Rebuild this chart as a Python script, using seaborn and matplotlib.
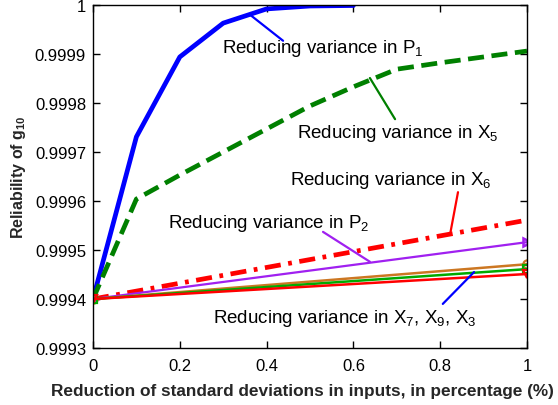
import matplotlib
matplotlib.use("Agg")
import matplotlib.pyplot as plt
import seaborn as sns
import pandas as pd
import numpy as np

# ---- data ----
x_p1 = [0.0, 0.1, 0.2, 0.3, 0.4, 0.5, 0.6]
y_p1 = [0.99940, 0.999731, 0.999894, 0.999963, 0.999992, 0.999998, 0.999999]

x_x5 = [0.0, 0.1, 0.2, 0.3, 0.4, 0.5, 0.6, 0.7, 0.8, 0.9, 1.0]
y_x5 = [0.99940, 0.999604, 0.999653, 0.999700, 0.999747, 0.999794,
        0.999833, 0.999869, 0.999882, 0.999894, 0.999906]

x_lin = [0.0, 1.0]
y_x6 = [0.99940, 0.999561]
y_p2 = [0.99940, 0.999516]
y_x7 = [0.99940, 0.999471]
y_x9 = [0.99940, 0.999461]
y_x3 = [0.99940, 0.999451]

xticks = [0, 0.2, 0.4, 0.6, 0.8, 1.0]
xticklabels = ["0", "0.2", "0.4", "0.6", "0.8", "1"]
yticks = [0.9993, 0.9994, 0.9995, 0.9996, 0.9997, 0.9998, 0.9999, 1.0]
yticklabels = ["0.9993", "0.9994", "0.9995", "0.9996", "0.9997", "0.9998", "0.9999", "1"]

sns.set_style("ticks")
plt.rcParams['font.family'] = ['Liberation Sans', 'DejaVu Sans']
plt.rcParams['mathtext.fontset'] = 'custom'
plt.rcParams['mathtext.rm'] = 'Liberation Sans'
plt.rcParams['mathtext.it'] = 'Liberation Sans'
plt.rcParams['mathtext.bf'] = 'Liberation Sans:bold'

fig = plt.figure(figsize=(5.58, 4.06), dpi=100)
ax = fig.add_axes([93/558, 1-349/406, (527-93)/558, (349-6)/406])

def line(x, y, **kw):
    sns.lineplot(x=x, y=y, ax=ax, sort=False, estimator=None, **kw)

PURPLE = '#A020F0'
BROWN = '#CC7722'

line(x_p1, y_p1, color='#0000FF', lw=3.4)
line(x_x5, y_x5, color='#008000', lw=3.4, linestyle=(0, (3.4, 1.6)))
line(x_lin, y_x6, color='#FF0000', lw=3.4, linestyle=(0, (3.4, 1.6, 0.8, 1.6)))
line(x_lin, y_p2, color=PURPLE, lw=1.6, marker='>', markersize=6,
     markerfacecolor='none', markeredgecolor=PURPLE, markeredgewidth=1.8)
line(x_lin, y_x7, color=BROWN, lw=1.8, marker='o', markersize=6,
     markerfacecolor='none', markeredgecolor=BROWN, markeredgewidth=1.6)
line(x_lin, y_x9, color='#00AA00', lw=1.8, marker='s', markersize=6,
     markerfacecolor='none', markeredgecolor='#00AA00', markeredgewidth=1.6)
line(x_lin, y_x3, color='#FF0000', lw=1.8, marker='v', markersize=6,
     markerfacecolor='none', markeredgecolor='#FF0000', markeredgewidth=1.6)

ax.set_xlim(0, 1)
ax.set_ylim(0.9993, 1.0)
ax.set_xticks(xticks)
ax.set_xticklabels(xticklabels)
ax.set_yticks(yticks)
ax.set_yticklabels(yticklabels)
ax.tick_params(axis='both', direction='in', top=True, right=True, length=5, width=1,
               labelsize=12, colors='black', pad=5)
ax.tick_params(axis='x', pad=7)
for s in ax.spines.values():
    s.set_visible(True)
    s.set_linewidth(1.0)
    s.set_color('black')

ax.set_xlabel("Reduction of standard deviations in inputs, in percentage (%)",
              fontsize=12.4, fontweight='bold')
ax.set_ylabel(r"Reliability of $\mathbf{g_{10}}$", fontsize=11.5, fontweight='bold')
ax.xaxis.set_label_coords((302-93)/434, -(384-349)/343)
ax.yaxis.set_label_coords(-(93-28)/434, 0.5)

tfs = 13.5
def note(text, tx, ty, p0, p1, color):
    ax.text(tx, ty, text, fontsize=tfs, ha='left', va='center', color='black')
    ax.annotate("", xy=p0, xytext=p1,
                arrowprops=dict(arrowstyle='-', color=color, lw=1.6,
                                shrinkA=0, shrinkB=0))

note(r"Reducing variance in P$_1$", 0.297, 0.999914,
     (0.362, 0.999980), (0.438, 0.999927), '#0000FF')
note(r"Reducing variance in X$_5$", 0.470, 0.999739,
     (0.638, 0.999851), (0.696, 0.999767), '#008000')
note(r"Reducing variance in X$_6$", 0.454, 0.999643,
     (0.841, 0.999618), (0.823, 0.999533), '#FF0000')
note(r"Reducing variance in P$_2$", 0.173, 0.999557,
     (0.530, 0.999537), (0.638, 0.999476), PURPLE)
note(r"Reducing variance in X$_7$, X$_9$, X$_3$", 0.276, 0.999363,
     (0.806, 0.999390), (0.878, 0.999455), '#0000FF')

fig.savefig("out.png", dpi=100)
